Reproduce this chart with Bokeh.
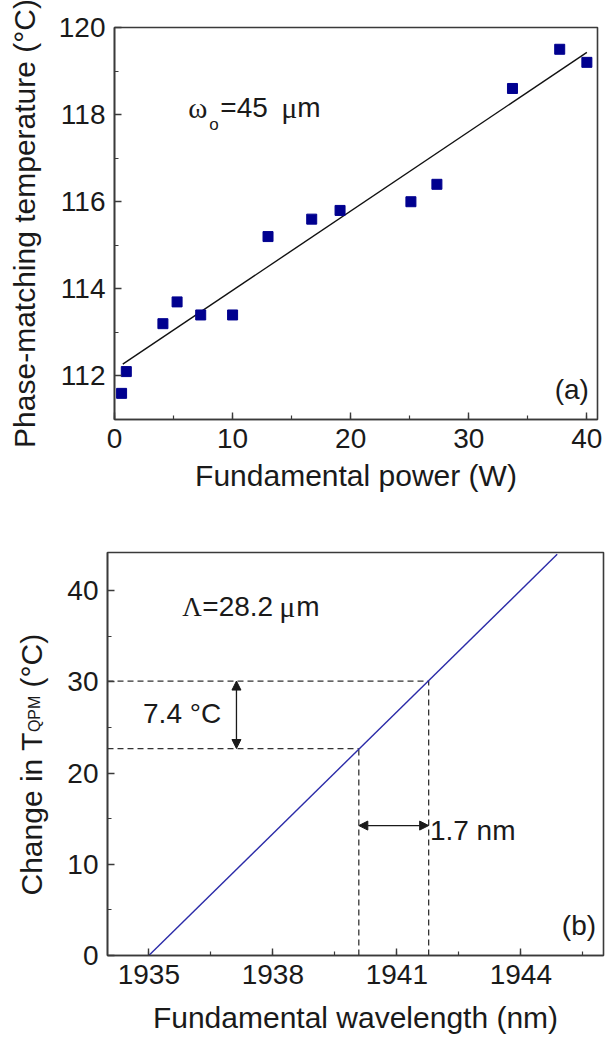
import math
from bokeh.plotting import figure
from bokeh.layouts import column, row
from bokeh.models import Range1d, SingleIntervalTicker, Label, Arrow, NormalHead
from bokeh.core.properties import value
from bokeh.embed import file_html
from bokeh.resources import INLINE

# ---------------- data: panel (a) ----------------
power_w = [0.6, 1.0, 4.1, 5.3, 7.3, 10.0, 13.0, 16.7, 19.1, 25.1, 27.3, 33.7, 37.7, 40.0]
pm_temp_c = [111.6, 112.1, 113.2, 113.7, 113.4, 113.4, 115.2, 115.6, 115.8, 116.0, 116.4, 118.6, 119.5, 119.2]
fit_power_w = [0.7, 40.0]
fit_temp_c = [112.27, 119.43]

# ---------------- data: panel (b) ----------------
wavelength_nm = [1935.0, 1944.88]
delta_t_c = [0.0, 44.0]
marker_wl_nm = [1940.08, 1941.77]
marker_dt_c = [22.7, 30.1]

SANS = "Liberation Sans"
SERIF = "Liberation Serif"
INK = "#1a1a1a"
FRAME = "#3a3a3a"
TICK_FS = "28px"
LABEL_FS = "30px"


def style_axes(p):
    p.grid.visible = False
    p.outline_line_color = FRAME
    p.outline_line_width = 1.6
    p.background_fill_color = "white"
    p.border_fill_color = "white"
    for ax in (p.xaxis[0], p.yaxis[0]):
        ax.axis_line_color = FRAME
        ax.axis_line_width = 1.6
        ax.major_tick_line_color = FRAME
        ax.minor_tick_line_color = FRAME
        ax.major_tick_line_width = 1.4
        ax.minor_tick_line_width = 1.2
        ax.major_tick_in = 7
        ax.major_tick_out = 0
        ax.minor_tick_in = 4
        ax.minor_tick_out = 0
        ax.major_label_text_font = SANS
        ax.major_label_text_font_size = TICK_FS
        ax.major_label_text_color = INK
        ax.axis_label_text_font = SANS
        ax.axis_label_text_font_size = LABEL_FS
        ax.axis_label_text_font_style = "normal"
        ax.axis_label_text_color = INK
        ax.major_label_standoff = 9


def runs(p, x, y, parts):
    for text, font, size, dx, dy in parts:
        p.add_layout(Label(x=x, y=y, x_offset=dx, y_offset=dy, text=text,
                           text_font=font, text_font_size=size, text_color=INK,
                           text_align="left", text_baseline="alphabetic"))


# ---------------- panel (a) ----------------
p1 = figure(width=606, height=515, x_range=Range1d(0, 40.9), y_range=Range1d(111, 120),
            output_backend="svg", toolbar_location=None,
            min_border_left=114, min_border_right=9, min_border_top=27, min_border_bottom=96)
style_axes(p1)
p1.xaxis.ticker = SingleIntervalTicker(interval=10, num_minor_ticks=2)
p1.yaxis.ticker = SingleIntervalTicker(interval=2, num_minor_ticks=2)
p1.xaxis.axis_label = "Fundamental power (W)"
p1.yaxis.axis_label = "Phase-matching temperature (\u00b0C)"
p1.xaxis.axis_label_standoff = 8
p1.yaxis.axis_label_standoff = 15

p1.line(fit_power_w, fit_temp_c, line_color="#111111", line_width=1.4)
p1.scatter(power_w, pm_temp_c, marker="square", size=10,
           fill_color="#00008f", line_color="#00008f")

runs(p1, 6.25, 118.16, [
    ("\u03c9", SERIF, "29px", 0, 0),
    ("o", SANS, "17px", 21, -17),
    ("=45", SANS, "28px", 32, 0),
    ("\u03bc", SERIF, "30px", 93, 0),
    ("m", SANS, "28px", 109, 0),
])
p1.add_layout(Label(x=40.17, y=111.7, text="(a)", text_align="right", text_baseline="middle",
                    text_font=SANS, text_font_size=TICK_FS, text_color=INK))

# ---------------- panel (b) ----------------
B_TOP, B_BOTTOM, B_HEIGHT = 37, 86, 526
p2 = figure(width=556, height=B_HEIGHT, x_range=Range1d(1934, 1946), y_range=Range1d(0, 44.2),
            output_backend="svg", toolbar_location=None,
            min_border_left=57, min_border_right=3, min_border_top=B_TOP, min_border_bottom=B_BOTTOM)
style_axes(p2)
p2.xaxis.ticker = SingleIntervalTicker(interval=3, num_minor_ticks=2)
p2.yaxis.ticker = SingleIntervalTicker(interval=10, num_minor_ticks=2)
p2.xaxis.axis_label = "Fundamental wavelength (nm)"
p2.xaxis.axis_label_standoff = 14

x_left = p2.x_range.start
p2.segment(x0=[x_left] * len(marker_wl_nm), y0=marker_dt_c, x1=marker_wl_nm, y1=marker_dt_c,
           line_dash="6 4", line_color="#333333", line_width=1.3)
p2.segment(x0=marker_wl_nm, y0=[0] * len(marker_wl_nm), x1=marker_wl_nm, y1=marker_dt_c,
           line_dash="6 4", line_color="#333333", line_width=1.3)
p2.line(wavelength_nm, delta_t_c, line_color="#2b2ba8", line_width=1.4)

head = dict(size=9, fill_color=INK, line_color=INK)
p2.add_layout(Arrow(start=NormalHead(**head), end=NormalHead(**head),
                    x_start=1937.12, y_start=marker_dt_c[0], x_end=1937.12, y_end=marker_dt_c[1],
                    line_color=INK, line_width=1.3))
p2.add_layout(Arrow(start=NormalHead(**head), end=NormalHead(**head),
                    x_start=marker_wl_nm[0], y_start=14.25, x_end=marker_wl_nm[1], y_end=14.25,
                    line_color=INK, line_width=1.3))

runs(p2, 1935.81, 38.25, [
    ("\u039b", SERIF, "27px", 0, 0),
    ("=28.2", SANS, "28px", 20, 0),
    ("\u03bc", SERIF, "30px", 97, 0),
    ("m", SANS, "28px", 114, 0),
])
p2.add_layout(Label(x=1934.86, y=26.5, text="7.4 \u00b0C", text_align="left", text_baseline="middle",
                    text_font=SANS, text_font_size=TICK_FS, text_color=INK))
p2.add_layout(Label(x=1941.8, y=13.7, text="1.7 nm", text_align="left", text_baseline="middle",
                    text_font=SANS, text_font_size=TICK_FS, text_color=INK))
p2.add_layout(Label(x=1945.82, y=3.29, text="(b)", text_align="right", text_baseline="middle",
                    text_font=SANS, text_font_size=TICK_FS, text_color=INK))

# ---------------- rotated y label of panel (b), with subscript ----------------
# same vertical borders as panel (b) so its frame lines up 1:1 in pixels
frame_h = B_HEIGHT - B_TOP - B_BOTTOM
lab = figure(width=50, height=B_HEIGHT, x_range=Range1d(0, 50), y_range=Range1d(0, frame_h),
             output_backend="svg", toolbar_location=None, x_axis_type=None, y_axis_type=None,
             min_border=0, min_border_left=0, min_border_right=0,
             min_border_top=B_TOP, min_border_bottom=B_BOTTOM,
             outline_line_color=None)
lab.grid.visible = False
y0 = 60
lab.text(x=[31, 31], y=[y0, y0 + 163.4 + 36.4 + 8.3], text=["Change in T", "(\u00b0C)"],
         angle=math.pi / 2, text_font=value(SANS), text_font_size=LABEL_FS, text_color=INK,
         text_align="left", text_baseline="alphabetic")
lab.text(x=[34], y=[y0 + 163.4], text=["QPM"],
         angle=math.pi / 2, text_font=value(SANS), text_font_size="16px", text_color=INK,
         text_align="left", text_baseline="alphabetic")

layout = column(p1, row(lab, p2, spacing=0), spacing=0)
open("out.html", "w").write(file_html(layout, INLINE))
